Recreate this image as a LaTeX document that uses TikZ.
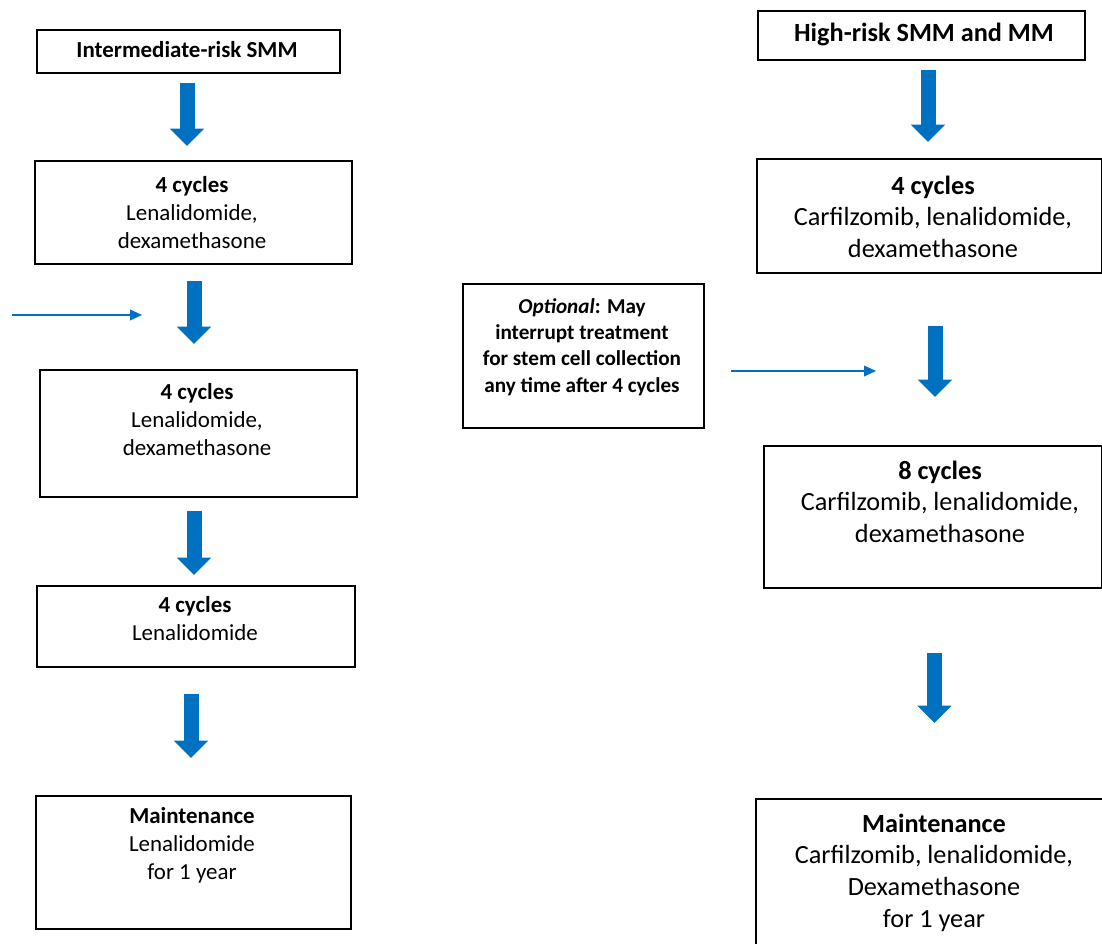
\documentclass[tikz,border=0pt]{standalone}
\usepackage{fontspec}
\setmainfont{Carlito}
\usepackage{tikz}
\usetikzlibrary{arrows.meta,positioning}
\definecolor{arrowblue}{RGB}{0,112,192}

\begin{document}
\begin{tikzpicture}[
    x=0.75pt, y=-0.75pt,
    box/.style={draw, line width=1.3pt, inner sep=0pt, anchor=north west},
    small/.style={align=center, inner sep=0pt, font=\fontsize{17.2}{21}\selectfont},
    large/.style={align=center, inner sep=0pt, font=\fontsize{19.7}{23.7}\selectfont},
    note/.style={align=center, inner sep=0pt, font=\fontsize{15.9}{19.8}\selectfont\bfseries},
    fat/.style={draw=arrowblue, line width=11.25pt, -{Triangle[width=25pt,length=13pt]}},
    thin/.style={draw=arrowblue, line width=1.2pt, -{Triangle[width=8pt,length=9pt]}}
]
    \useasboundingbox (0,0) rectangle (1102,943);
    \clip (0,0) rectangle (1102,943);

    % left column: intermediate risk
    \node[box, minimum width=227.25pt, minimum height=32.25pt] (ir) at (36,29) {};
    \node[box, minimum width=237.75pt, minimum height=77.25pt] (lc1) at (34,160) {};
    \node[box, minimum width=237.75pt, minimum height=95.25pt] (lc2) at (39,369) {};
    \node[box, minimum width=238.5pt, minimum height=60.75pt] (lc3) at (36,585) {};
    \node[box, minimum width=236.25pt, minimum height=99.75pt] (lmt) at (35,795) {};

    \node[small] (irtxt) at (187,50) {\textbf{Intermediate-risk SMM}};
    \node[small] (lc1txt) at (192,213) {\textbf{4 cycles}\\Lenalidomide,\\dexamethasone};
    \node[small] (lc2txt) at (197,420) {\textbf{4 cycles}\\Lenalidomide,\\dexamethasone};
    \node[small] (lc3txt) at (195,619) {\textbf{4 cycles}\\Lenalidomide};
    \node[small] (lmttxt) at (192,845) {\textbf{Maintenance}\\Lenalidomide\\for 1 year};

    % right column: high risk
    \node[box, minimum width=245.25pt, minimum height=36.75pt] (hr) at (757,10) {};
    \node[box, minimum width=258.75pt, minimum height=85.5pt] (rc1) at (756,158) {};
    \node[box, minimum width=180.75pt, minimum height=108pt] (opt) at (462,283) {};
    \node[box, minimum width=253.5pt, minimum height=106.5pt] (rc2) at (763,445) {};
    \node[box, minimum width=266pt, minimum height=121.5pt] (rmt) at (755,798) {};

    \node[large] (hrtxt) at (924,35) {\textbf{High-risk SMM and MM}};
    \node[large] (rc1txt) at (933,216.5) {\textbf{4 cycles}\\Carfilzomib, lenalidomide,\\dexamethasone};
    \node[note] (opttxt) at (582,347) {\textit{Optional}: May\\interrupt treatment\\for stem cell collection\\any time after 4 cycles};
    \node[large] (rc2txt) at (940,501.5) {\textbf{8 cycles}\\Carfilzomib, lenalidomide,\\dexamethasone};
    \node[large] (rmttxt) at (934,872.5) {\textbf{Maintenance}\\Carfilzomib, lenalidomide,\\Dexamethasone\\for 1 year};

    % arrow ends
    \coordinate (a1s) at (187,83);   \coordinate (a1e) at (187,146);
    \coordinate (a2s) at (194,281);  \coordinate (a2e) at (194,344);
    \coordinate (a3s) at (194,511);  \coordinate (a3e) at (194,575);
    \coordinate (a4s) at (191,694);  \coordinate (a4e) at (191,758);
    \coordinate (b1s) at (928,70);   \coordinate (b1e) at (928,142);
    \coordinate (b2s) at (935,326);  \coordinate (b2e) at (935,397);
    \coordinate (b3s) at (934.5,653); \coordinate (b3e) at (934.5,723);
    \coordinate (ls) at (12,315);    \coordinate (le) at (142,315);
    \coordinate (rs) at (731,371);   \coordinate (re) at (876,371);

    \draw[fat] (a1s) -- (a1e);
    \draw[fat] (a2s) -- (a2e);
    \draw[fat] (a3s) -- (a3e);
    \draw[fat] (a4s) -- (a4e);
    \draw[fat] (b1s) -- (b1e);
    \draw[fat] (b2s) -- (b2e);
    \draw[fat] (b3s) -- (b3e);
    \draw[thin] (ls) -- (le);
    \draw[thin] (rs) -- (re);
\end{tikzpicture}
\end{document}
